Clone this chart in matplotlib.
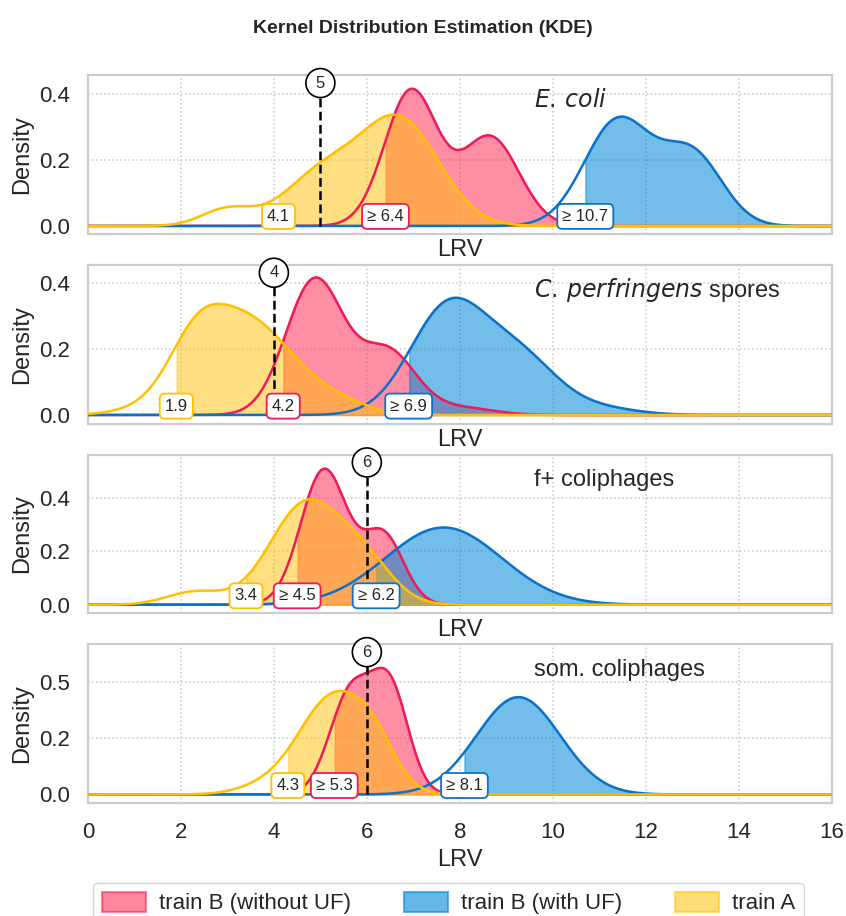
import numpy as np
import matplotlib
matplotlib.use("Agg")
import matplotlib.pyplot as plt
import matplotlib.transforms as mtransforms
from matplotlib.patches import Patch
from matplotlib.ticker import FormatStrFormatter
import seaborn as sns

# ──────────────────────────────────────────────────────────
#  Data  (kernels: centre LRV, spread, peak density)
# ──────────────────────────────────────────────────────────
ECOLI_NOUF = [(6.95, 0.57, 0.41), (8.65, 0.62, 0.27)]
ECOLI_UF   = [(11.4, 0.72, 0.32), (13.0, 0.65, 0.215)]
ECOLI_A    = [(3.0, 0.55, 0.051), (5.0, 0.80, 0.15), (6.7, 0.85, 0.32)]

CPERF_NOUF = [(4.88, 0.62, 0.41), (6.45, 0.60, 0.19), (8.0, 0.70, 0.022)]
CPERF_UF   = [(7.75, 0.82, 0.325), (9.3, 0.80, 0.164), (11.0, 0.80, 0.02)]
CPERF_A    = [(2.3, 0.55, 0.10), (3.3, 1.10, 0.30), (5.5, 0.60, 0.02)]

FPLUS_NOUF = [(5.08, 0.50, 0.505), (6.35, 0.44, 0.26)]
FPLUS_UF   = [(7.65, 1.25, 0.289)]
FPLUS_A    = [(2.3, 0.60, 0.048), (4.7, 0.78, 0.38), (6.0, 0.60, 0.13)]

SOM_NOUF   = [(5.65, 0.45, 0.45), (6.5, 0.40, 0.46)]
SOM_UF     = [(9.26, 0.90, 0.434)]
SOM_A      = [(3.8, 0.60, 0.03), (5.3, 0.75, 0.44), (6.2, 0.45, 0.12)]

ORGANISMS  = [r"$\it{E.\,coli}$", r"$\it{C.\,perfringens}$ spores",
              "f+ coliphages", "som. coliphages"]
TARGETS    = [5, 4, 6, 6]
THRESH_NOUF = [6.4, 4.2, 4.5, 5.3]
THRESH_UF   = [10.7, 6.9, 6.2, 8.1]
THRESH_A    = [4.1, 1.9, 3.4, 4.3]
LABEL_NOUF  = ["≥ 6.4", "4.2", "≥ 4.5", "≥ 5.3"]
LABEL_UF    = ["≥ 10.7", "≥ 6.9", "≥ 6.2", "≥ 8.1"]
LABEL_A     = ["4.1", "1.9", "3.4", "4.3"]
SERIES      = ["train B (without UF)", "train B (with UF)", "train A"]

# ──────────────────────────────────────────────────────────
#  Style
# ──────────────────────────────────────────────────────────
sns.set_theme(style="whitegrid")
plt.rcParams["font.family"] = ["Liberation Sans", "DejaVu Sans"]
plt.rcParams["mathtext.fontset"] = "dejavusans"

LINE = ["#ef1a58", "#0b72c9", "#ffc000"]
FILL = ["#ff1f4d", "#0087d9", "#ffc107"]
ALPHA = [0.5, 0.55, 0.5]

YLIMS  = [(-0.024, 0.458), (-0.026, 0.455), (-0.032, 0.562), (-0.038, 0.67)]
YTICKS = [[0, 0.2, 0.4], [0, 0.2, 0.4], [0, 0.2, 0.4], [0, 0.25, 0.5]]

panels = [
    (ECOLI_NOUF, ECOLI_UF, ECOLI_A),
    (CPERF_NOUF, CPERF_UF, CPERF_A),
    (FPLUS_NOUF, FPLUS_UF, FPLUS_A),
    (SOM_NOUF, SOM_UF, SOM_A),
]


def density(x, kernels):
    y = np.zeros_like(x)
    for mu, sd, h in kernels:
        y += h * np.exp(-0.5 * ((x - mu) / sd) ** 2)
    return y


x = np.linspace(0, 16, 1200)

fig, axes = plt.subplots(4, 1, figsize=(8.46, 9.16), dpi=100, sharex=True)
fig.subplots_adjust(left=0.104, right=0.983, top=0.918, bottom=0.1234, hspace=0.195)

for i, ax in enumerate(axes):
    thresholds = [THRESH_NOUF[i], THRESH_UF[i], THRESH_A[i]]
    labels = [LABEL_NOUF[i], LABEL_UF[i], LABEL_A[i]]
    curves = [density(x, k) for k in panels[i]]

    # fills first, then the lines on top
    for j, y in enumerate(curves):
        m = x >= thresholds[j]
        ax.fill_between(x[m], 0, y[m], color=FILL[j], alpha=ALPHA[j], lw=1, zorder=2)
    for j, y in enumerate(curves):
        ax.plot(x, y, color=LINE[j], lw=1.8, zorder=3)

    ax.set_xlim(0, 16)
    ax.set_ylim(*YLIMS[i])
    ax.set_yticks(YTICKS[i])
    ax.yaxis.set_major_formatter(FormatStrFormatter("%.1f"))
    ax.set_xticks(range(0, 17, 2))
    ax.grid(True, linestyle=":", color="#c8c8c8", lw=1.1)
    for s in ax.spines.values():
        s.set_color("#cccccc")
        s.set_linewidth(1.6)
    ax.tick_params(axis="y", labelsize=16, pad=7)
    ax.tick_params(axis="x", labelsize=16, pad=8)
    ax.set_ylabel("Density", fontsize=17)
    ax.set_xlabel("LRV", fontsize=17)
    ax.xaxis.set_tick_params(labelbottom=(i == 3))

    trans = mtransforms.blended_transform_factory(ax.transData, ax.transAxes)

    # target LRV marker
    y0, y1 = YLIMS[i]
    top = y0 + 0.95 * (y1 - y0)
    ax.plot([TARGETS[i], TARGETS[i]], [0, top], color="black", lw=1.8,
            dashes=(3.5, 1.8), zorder=5)
    ax.text(TARGETS[i], 0.95, str(TARGETS[i]), transform=trans, ha="center",
            va="center", fontsize=12, zorder=7,
            bbox=dict(boxstyle="circle,pad=0.42", fc="white", ec="black", lw=1.2))

    # threshold boxes
    for j in range(3):
        ax.text(thresholds[j], 0.11, labels[j], transform=trans, ha="center",
                va="center", fontsize=12, zorder=6,
                bbox=dict(boxstyle="round,pad=0.3", fc="white", ec=LINE[j], lw=1.3))

    ax.text(0.60, 0.84, ORGANISMS[i], transform=ax.transAxes, ha="left",
            va="center", fontsize=17, color="#262626")

fig.suptitle("Kernel Distribution Estimation (KDE)", fontsize=14,
             fontweight="bold", y=0.969, va="center")

handles = [Patch(facecolor=FILL[j], edgecolor=FILL[j], alpha=ALPHA[j] + 0.05, lw=1.5)
           for j in range(3)]
fig.legend(handles, SERIES, loc="upper center", bbox_to_anchor=(0.53, 0.036),
           borderaxespad=0, ncol=3, fontsize=16, handlelength=2.0,
           handleheight=1.0, handletextpad=0.55, columnspacing=2.4, frameon=True)

plt.savefig("out.png", dpi=100)
